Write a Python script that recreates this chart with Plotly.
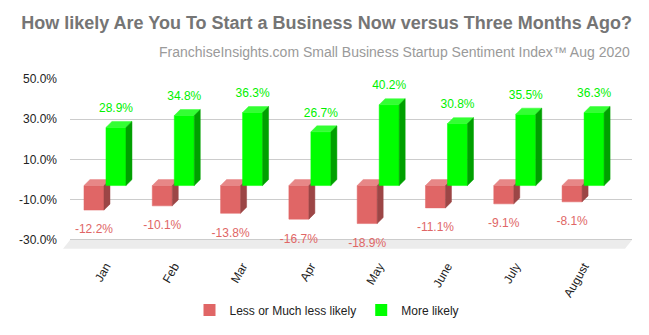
import plotly.graph_objects as go

# ---- data ----
months = ["Jan", "Feb", "Mar", "Apr", "May", "June", "July", "August"]
less_likely = [-12.2, -10.1, -13.8, -16.7, -18.9, -11.1, -9.1, -8.1]
more_likely = [28.9, 34.8, 36.3, 26.7, 40.2, 30.8, 35.5, 36.3]
y_ticks = [-30, -10, 10, 30, 50]
series_names = ["Less or Much less likely", "More likely"]

# ---- geometry / style ----
W, H = 649, 335
px_per_y = 2.024
y_range = [-35, 50]
L, R, T = 70, 17, 79
plot_w = W - L - R
plot_h = (y_range[1] - y_range[0]) * px_per_y
B = H - T - plot_h
cat_px = 68.3
x_range = [-0.6, -0.6 + plot_w / cat_px]
depth_px = 6
dx = depth_px / cat_px
dy = depth_px / px_per_y
bw = 20 / cat_px
off = 11 / cat_px

FONT = "Liberation Sans, Arial, sans-serif"
red = dict(front="#e06666", top="#e78787", side="#9c4646", text="#e06666")
green = dict(front="#00ff00", top="#33ff33", side="#00a000", text="#00f000")


def py2paper(py):
    return (H - B - py) / plot_h


def faces(vals, shift):
    fr, tp, sd = ([], []), ([], []), ([], [])
    for i, v in enumerate(vals):
        c = i + shift - dx
        x0, x1 = c - bw / 2, c + bw / 2
        lo, hi = min(v, 0) - dy, max(v, 0) - dy
        fr[0].extend([x0, x1, x1, x0, x0, None]); fr[1].extend([lo, lo, hi, hi, lo, None])
        tp[0].extend([x0, x1, x1 + dx, x0 + dx, x0, None]); tp[1].extend([hi, hi, hi + dy, hi + dy, hi, None])
        sd[0].extend([x1, x1 + dx, x1 + dx, x1, x1, None]); sd[1].extend([lo, lo + dy, hi + dy, hi, lo, None])
    return fr, tp, sd


fig = go.Figure()

for vals, shift, col in [(less_likely, -off, red), (more_likely, off, green)]:
    fr, tp, sd = faces(vals, shift)
    for (xs, ys), key in [(fr, "front"), (tp, "top"), (sd, "side")]:
        fig.add_trace(go.Scatter(x=xs, y=ys, mode="lines", fill="toself",
                                 fillcolor=col[key], line=dict(width=0.5, color=col[key]),
                                 hoverinfo="skip", showlegend=False))

# data labels
fig.add_trace(go.Scatter(
    x=[i - off - dx for i in range(len(months))],
    y=[v - dy - 20.5 / px_per_y for v in less_likely],
    mode="text", text=[f"{v:.1f}%" for v in less_likely],
    textfont=dict(family=FONT, size=12, color=red["text"]),
    textposition="middle center", cliponaxis=False, showlegend=False, hoverinfo="skip"))
fig.add_trace(go.Scatter(
    x=[i + off - dx for i in range(len(months))],
    y=[v + 12.4 / px_per_y for v in more_likely],
    mode="text", text=[f"{v:.1f}%" for v in more_likely],
    textfont=dict(family=FONT, size=12, color=green["text"]),
    textposition="middle center", cliponaxis=False, showlegend=False, hoverinfo="skip"))

# legend entries
for name, col in zip(series_names, [red, green]):
    fig.add_trace(go.Scatter(x=[None], y=[None], mode="markers", name=name,
                             marker=dict(symbol="square", size=12, color=col["front"])))

# floor (3D base plate under the -30% line)
y_floor = H - B - (y_ticks[0] - y_range[0]) * px_per_y  # pixel y of the -30 line
fb = py2paper(y_floor)
ff = py2paper(y_floor + 8.8)
fx = 7 / plot_w
fig.add_shape(type="path", xref="paper", yref="paper",
              path=f"M 0,{fb} L 1,{fb} L {1 - fx},{ff} L {-fx},{ff} Z",
              fillcolor="#ececec", line=dict(width=0), layer="below")

fig.update_layout(
    width=W, height=H,
    margin=dict(l=L, r=R, t=T, b=B),
    paper_bgcolor="white", plot_bgcolor="rgba(0,0,0,0)",
    title=dict(text="How likely Are You To Start a Business Now versus Three Months Ago?",
               x=632 / W, xanchor="right", y=1 - 23 / H, yanchor="middle",
               font=dict(family=FONT, size=18, color="#757575", weight="bold")),
    annotations=[dict(text="FranchiseInsights.com Small Business Startup Sentiment Index™ Aug 2020",
                      xref="paper", yref="paper", x=1, xanchor="right",
                      y=py2paper(52), yanchor="middle", showarrow=False,
                      font=dict(family=FONT, size=14, color="#9a9a9a"))],
    legend=dict(orientation="h", x=(327 - L) / plot_w, xanchor="center",
                y=py2paper(310), yanchor="middle",
                font=dict(family=FONT, size=12, color="#222222")),
    showlegend=True,
)
fig.update_xaxes(range=x_range, tickvals=[i - 5 / cat_px for i in range(len(months))],
                 ticktext=months,
                 tickangle=-60, showgrid=False, zeroline=False, showline=False,
                 ticks="", ticklabelstandoff=6,
                 tickfont=dict(family=FONT, size=12, color="#222222"))
fig.update_yaxes(range=y_range, tickvals=y_ticks, ticktext=[f"{v:.1f}%" for v in y_ticks],
                 showgrid=True, gridcolor="#cccccc", gridwidth=1, zeroline=False,
                 showline=False, ticks="", ticklabelstandoff=12,
                 tickfont=dict(family=FONT, size=12, color="#222222"))

fig.write_html("out.html")
